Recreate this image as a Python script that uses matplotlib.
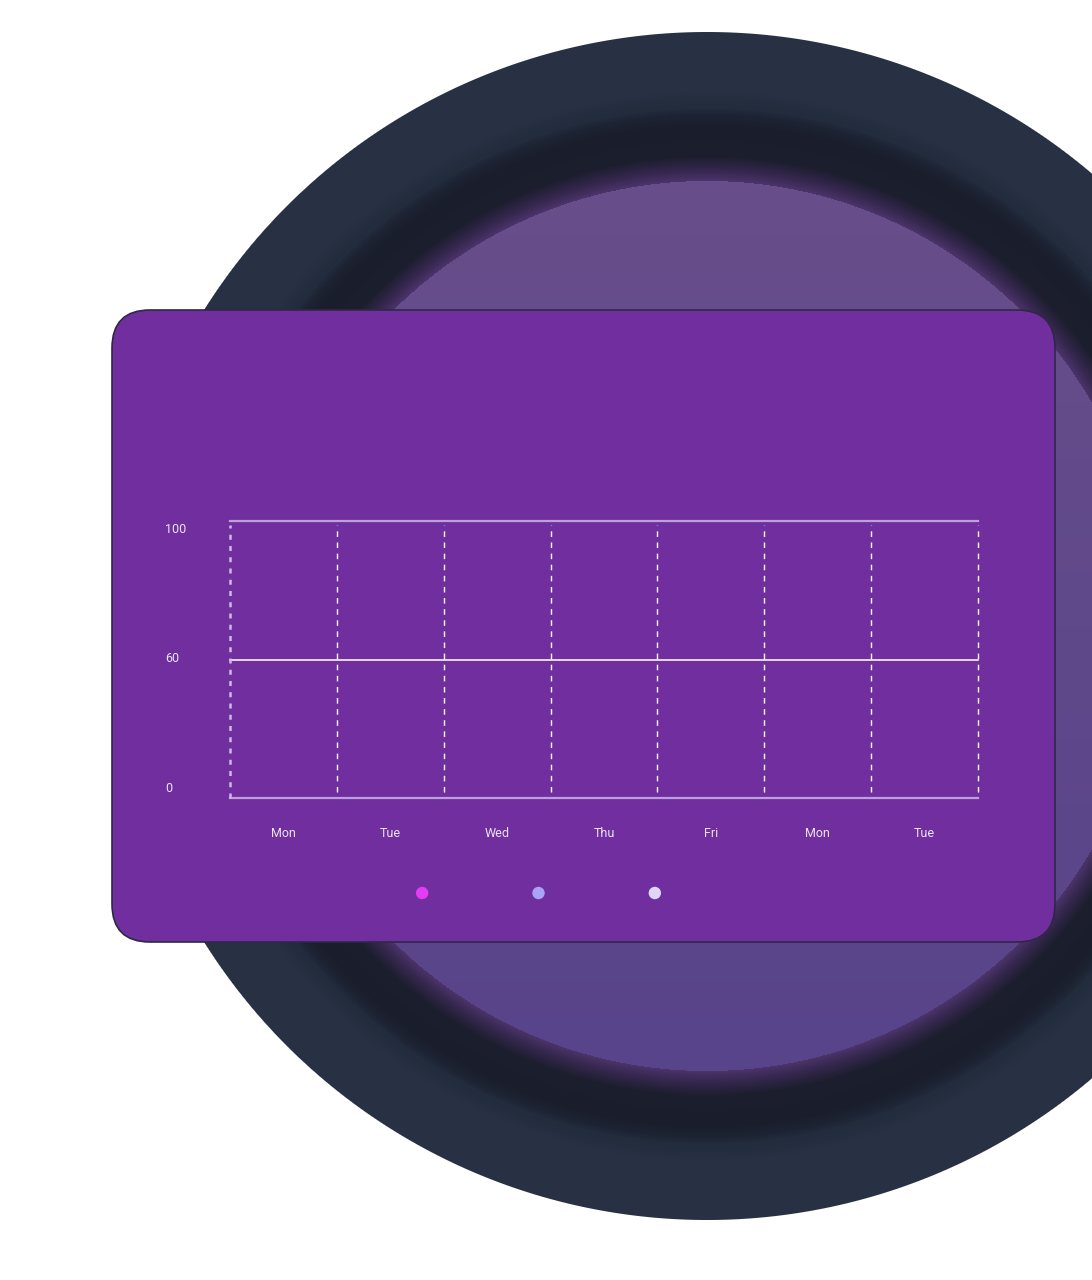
import matplotlib
matplotlib.use("Agg")
import matplotlib.pyplot as plt
import numpy as np
from matplotlib.patches import FancyBboxPatch

plt.rcParams['font.family'] = ['Roboto', 'DejaVu Sans']

# chart data (the chart has no series values drawn, only the frame)
days = ['Mon', 'Tue', 'Wed', 'Thu', 'Fri', 'Mon', 'Tue']
y_labels = ['0', '60', '100']
series_names = ['', '', '']
series_colors = ['#e23cf5', '#a9a4f7', '#ddd6f5']

W, H = 1092, 1280
fig = plt.figure(figsize=(W / 100, H / 100), dpi=100)
fig.patch.set_facecolor('white')

# background: big dark circle with a purple disc inside
bg = fig.add_axes([0, 0, 1, 1], zorder=0)
bg.set_xlim(0, W)
bg.set_ylim(H, 0)
bg.axis('off')

cx, cy = 707, 626
yy, xx = np.mgrid[0:H, 0:W] + 0.5
r = np.hypot(xx - cx, yy - cy)

knots = [445, 455, 470, 500, 512, 518, 535, 594]
ring_cols = np.array([(76, 52, 106), (55, 40, 80), (28, 30, 46), (26, 30, 44),
                      (30, 36, 52), (34, 44, 60), (40, 48, 67), (40, 48, 67)]) / 255
img = np.zeros((H, W, 4))
for c in range(3):
    img[..., c] = np.interp(r, knots, ring_cols[:, c])
t = np.clip((yy - 182) / (1071 - 182), 0, 1)
top_c = np.array([104, 78, 138]) / 255
bot_c = np.array([88, 68, 138]) / 255
inner = r < 445
for c in range(3):
    img[..., c] = np.where(inner, top_c[c] + (bot_c[c] - top_c[c]) * t, img[..., c])
img[..., 3] = np.clip(594.5 - r, 0, 1)
bg.imshow(img, extent=(0, W, H, 0), interpolation='bilinear')

# card
card = FancyBboxPatch((112, 310), 943, 632, boxstyle='round,pad=0,rounding_size=38',
                      facecolor='#712e9e', edgecolor='#2e2846', linewidth=1.2)
bg.add_patch(card)

# chart area
left, right, top, bottom = 230, 978, 521, 798
ax = fig.add_axes([left / W, 1 - bottom / H, (right - left) / W, (bottom - top) / H], zorder=2)
ax.set_facecolor('none')
n = len(days)
ax.set_xlim(0, n)
ax.set_ylim(0, len(y_labels) - 1)
for s in ax.spines.values():
    s.set_visible(False)
ax.set_xticks([])
ax.set_yticks([])

for i in range(len(y_labels)):
    if i == 1:
        ax.axhline(i, color='white', lw=1.2, alpha=0.95, clip_on=False)
    else:
        ax.axhline(i, color='#c7aee0', lw=1.6, alpha=0.9, clip_on=False)
for i in range(n + 1):
    if i == 0:
        ax.axvline(i, color='#d0b8ea', lw=1.8, ls=(0, (2, 2.5)), ymax=0.985, clip_on=False)
    else:
        ax.axvline(i, color='white', lw=1, ls=(0, (4, 4)), ymin=0.02, ymax=0.985, clip_on=False)

for i, d in enumerate(days):
    ax.text(i + 0.5, -0.255, d, ha='center', va='center', color='#ece4f4', fontsize=9,
            transform=ax.transData)

label_pos = [0.036, 0.505, 0.971]
for lab, p in zip(y_labels, label_pos):
    ax.text(165 / W, 1 - (bottom - p * (bottom - top)) / H, lab, ha='left', va='center',
            color='#ece4f4', fontsize=9, transform=fig.transFigure)

# legend dots (no labels)
lx0, lx1 = 364, 713
lax = fig.add_axes([lx0 / W, 1 - 905 / H, (lx1 - lx0) / W, 24 / H], zorder=2)
lax.set_xlim(-0.5, len(series_names) - 0.5)
lax.set_ylim(-1, 1)
lax.axis('off')
for i, (name, col) in enumerate(zip(series_names, series_colors)):
    lax.scatter(i, 0, s=80, color=col, label=name, edgecolors='none')

fig.savefig('out.png', dpi=100, facecolor='white')
